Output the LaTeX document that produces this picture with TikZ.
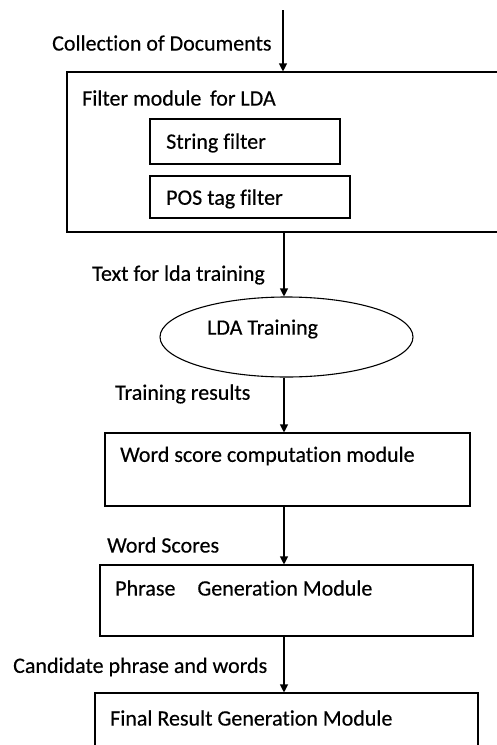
\documentclass[tikz,border=0pt]{standalone}
\usepackage{fontspec}
\setmainfont[Ligatures=NoCommon, FakeBold=0.4]{Carlito}
\usetikzlibrary{arrows.meta,shapes.geometric}

\tikzset{
  box/.style={draw, line width=1.1pt, rectangle, inner sep=0pt},
  oval/.style={draw, line width=1.1pt, ellipse, inner sep=0pt},
  lbl/.style={anchor=west, inner sep=0pt, font=\fontsize{22}{25}\selectfont},
  flow/.style={line width=1.1pt, -{Triangle[length=8pt,width=8pt]}},
}

\begin{document}
\begin{tikzpicture}[x=1pt, y=-1pt]
  \useasboundingbox (0,0) rectangle (497,745);
  \clip (0,0) rectangle (497,745);

  % spine of the flow
  \coordinate (spine) at (284,0);
  \coordinate (start) at (283,10);

  % boxes and the ellipse
  \node[box, minimum width=443pt, minimum height=160pt] (filter) at (288.5,152) {};
  \node[box, minimum width=190pt, minimum height=45pt] (string) at (245,141.5) {};
  \node[box, minimum width=200pt, minimum height=42pt] (pos) at (250,197) {};
  \node[oval, minimum width=253pt, minimum height=80pt] (lda) at (286.5,337) {};
  \node[box, minimum width=365pt, minimum height=73pt] (word) at (287.5,469.5) {};
  \node[box, minimum width=373pt, minimum height=71pt] (phrase) at (286.5,600.5) {};
  \node[box, minimum width=383pt, minimum height=74pt] (final) at (286.5,730) {};

  % texts inside the shapes
  \node[lbl] (tfilter) at (82,98) {Filter module\, for LDA};
  \node[lbl] (tstring) at (166,143) {String filter};
  \node[lbl] (tpos) at (166,199) {POS tag filter};
  \node[lbl] (tlda) at (207,329) {LDA Training};
  \node[lbl] (tword) at (120,456) {Word score computation module};
  \node[lbl] (tphrase) at (115,588) {Phrase\quad Generation Module};
  \node[lbl] (tfinal) at (110,718) {Final Result Generation Module};

  % labels on the connectors
  \node[lbl] (lcoll) at (52,43) {Collection of Documents};
  \node[lbl] (ltext) at (92,275) {Text for lda training};
  \node[lbl] (ltrain) at (115,394) {Training results};
  \node[lbl] (lscores) at (107,545) {Word Scores};
  \node[lbl] (lcand) at (13,667) {Candidate phrase and words};

  % connectors
  \draw[flow] (start) -- (start |- filter.north);
  \draw[flow] (filter.south -| spine) -- (lda.north -| spine);
  \draw[flow] (lda.south -| spine) -- (word.north -| spine);
  \draw[flow] (word.south -| spine) -- (phrase.north -| spine);
  \draw[flow] (phrase.south -| spine) -- (final.north -| spine);
\end{tikzpicture}
\end{document}
